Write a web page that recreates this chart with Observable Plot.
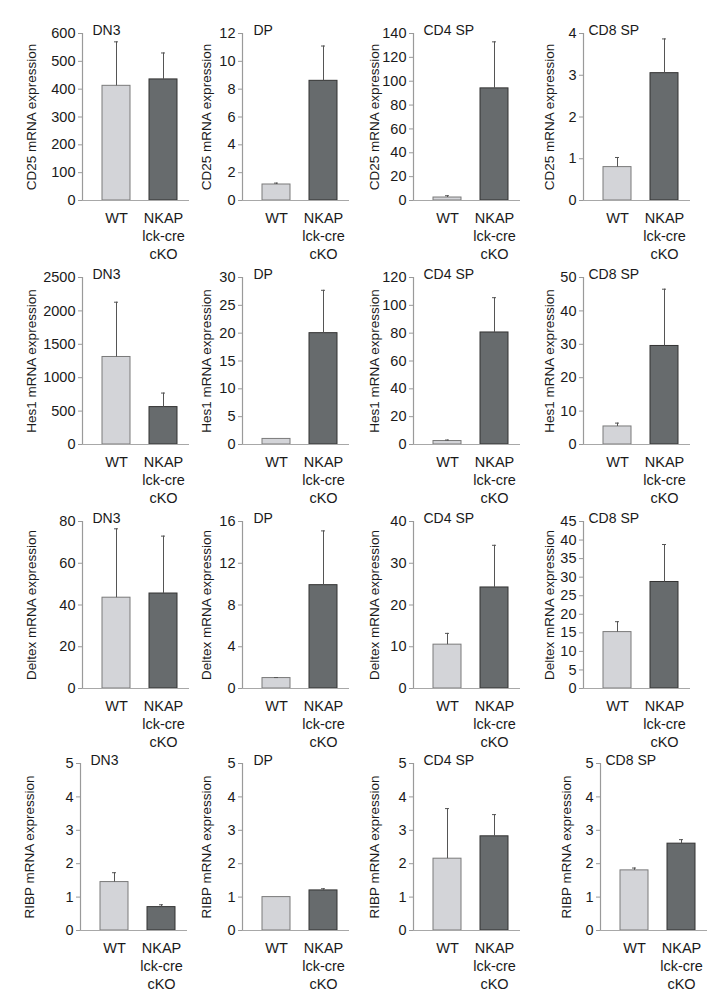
<!DOCTYPE html>
<html><head><meta charset="utf-8">
<script src="https://cdn.jsdelivr.net/npm/d3@7"></script>
<script src="https://cdn.jsdelivr.net/npm/@observablehq/plot@0.6"></script>
<style>
body{margin:0;background:#fff;font-family:"Liberation Sans",Arial,sans-serif;}
#fig{position:relative;width:719px;height:1002px;overflow:hidden;background:#fff}
.panel{position:absolute}
</style></head><body><div id="fig"></div>
<script>
// ---- data ----
const populations = ["DN3", "DP", "CD4 SP", "CD8 SP"];
const groups = ["WT", "NKAP lck-cre cKO"];
const genes = ["CD25", "Hes1", "Deltex", "RIBP"];

// means per population (DN3, DP, CD4 SP, CD8 SP)
const cd25WT   = [412, 1.15, 2.5, 0.8];
const cd25KO   = [435, 8.6, 94, 3.05];
const cd25WTErr = [158, 0.1, 1.5, 0.23];
const cd25KOErr = [95, 2.5, 39, 0.82];

const hes1WT   = [1310, 1.0, 2.5, 5.4];
const hes1KO   = [560, 20, 80.5, 29.5];
const hes1WTErr = [820, 0, 0.7, 1.0];
const hes1KOErr = [210, 7.7, 25, 17];

const deltexWT   = [43.5, 1.0, 10.5, 15.2];
const deltexKO   = [45.5, 9.9, 24.2, 28.7];
const deltexWTErr = [33, 0.05, 2.7, 2.8];
const deltexKOErr = [27.5, 5.2, 10.1, 10.1];

const ribpWT   = [1.45, 1.0, 2.15, 1.8];
const ribpKO   = [0.7, 1.2, 2.82, 2.6];
const ribpWTErr = [0.28, 0, 1.5, 0.07];
const ribpKOErr = [0.07, 0.05, 0.65, 0.12];

// y-axis maxima and tick steps
const cd25Max = [600, 12, 140, 4],   cd25Step = [100, 2, 20, 1];
const hes1Max = [2500, 30, 120, 50], hes1Step = [500, 5, 20, 10];
const deltexMax = [80, 16, 40, 45],  deltexStep = [20, 4, 10, 5];
const ribpMax = [5, 5, 5, 5],        ribpStep = [1, 1, 1, 1];

const wtMeans = [cd25WT, hes1WT, deltexWT, ribpWT];
const koMeans = [cd25KO, hes1KO, deltexKO, ribpKO];
const wtErrs = [cd25WTErr, hes1WTErr, deltexWTErr, ribpWTErr];
const koErrs = [cd25KOErr, hes1KOErr, deltexKOErr, ribpKOErr];
const yMaxes = [cd25Max, hes1Max, deltexMax, ribpMax];
const ySteps = [cd25Step, hes1Step, deltexStep, ribpStep];

// ---- layout ----
const colAxisX = [82, 242, 413, 583];
const rowTop = [33, 277, 521, 763];
const frameW = 107, frameH = 167;
const mL = 70, mT = 30, mR = 10, mB = 75;
const labelOffset = [51, 36, 39, 34];
const titleDx = [10, 11, 10, 5];
const wtFill = "#d3d4d8", wtStroke = "#7a7a7a";
const koFill = "#676b6d", koStroke = "#333";
const errColor = "#555";
const FONT = '"Liberation Sans", Arial, sans-serif';

function yAxisLine(index, scales, values, dims) {
  const l = document.createElementNS("http://www.w3.org/2000/svg", "line");
  l.setAttribute("x1", dims.marginLeft + 0.5);
  l.setAttribute("x2", dims.marginLeft + 0.5);
  l.setAttribute("y1", dims.marginTop);
  l.setAttribute("y2", dims.height - dims.marginBottom);
  l.setAttribute("stroke", "#9a9a9a");
  l.setAttribute("stroke-width", 1.2);
  return l;
}

const fig = document.getElementById("fig");
genes.forEach((gene, r) => {
  populations.forEach((pop, c) => {
    const data = [
      {group: groups[0], value: wtMeans[r][c], err: wtErrs[r][c]},
      {group: groups[1], value: koMeans[r][c], err: koErrs[r][c]}
    ];
    const ymax = yMaxes[r][c], step = ySteps[r][c];
    const ticks = d3.range(0, ymax + step / 2, step);
    let ax = colAxisX[c];
    if (r === 3 && c === 3) ax = 600;
    if (r === 3 && c === 0) ax = 80;
    const plot = Plot.plot({
      width: mL + frameW + mR,
      height: mT + frameH + mB,
      marginLeft: mL, marginTop: mT, marginRight: mR, marginBottom: mB,
      style: {background: "transparent", overflow: "visible", fontFamily: FONT},
      x: {domain: groups, paddingInner: 0.404, paddingOuter: 0.34, align: 0.625, label: null},
      y: {domain: [0, ymax], label: null},
      marks: [
        Plot.barY(data.filter(d => d.group === groups[0]), {x: "group", y: "value", fill: wtFill, stroke: wtStroke, strokeWidth: 1}),
        Plot.barY(data.filter(d => d.group === groups[1]), {x: "group", y: "value", fill: koFill, stroke: koStroke, strokeWidth: 1}),
        Plot.ruleX(data.filter(d => d.err > 0), {x: "group", y1: "value", y2: d => d.value + d.err, stroke: errColor, strokeWidth: 1}),
        Plot.tickY(data.filter(d => d.err > 0), {x: "group", y: d => d.value + d.err, stroke: errColor, strokeWidth: 1, insetLeft: 12, insetRight: 12}),
        Plot.ruleY([0], {stroke: "#a8a8a8", strokeWidth: 1.2}),
        yAxisLine,
        Plot.axisY({ticks, tickSize: 4, tickPadding: 3, fontSize: 14.5, stroke: "#999", fill: "#1a1a1a", label: null, tickFormat: d3.format("d")}),
        Plot.axisX({tickSize: 0, tickPadding: 9, fontSize: 14.5, lineHeight: 1.27, fill: "#1a1a1a", label: null,
          tickFormat: d => d === groups[0] ? "WT" : "NKAP\nlck-cre\ncKO"}),
        Plot.text([`${gene} mRNA expression`], {frameAnchor: "left", textAnchor: "middle", lineAnchor: "middle", rotate: -90, dx: -labelOffset[c], fontSize: 13.5, fill: "#1a1a1a"}),
        Plot.text([pop], {frameAnchor: "top-left", textAnchor: "start", lineAnchor: "bottom", dx: titleDx[c], dy: 1, fontSize: 14, fill: "#1a1a1a"})
      ]
    });
    const div = document.createElement("div");
    div.className = "panel";
    div.style.left = (ax - mL) + "px";
    div.style.top = (rowTop[r] - mT) + "px";
    div.appendChild(plot);
    fig.appendChild(div);
  });
});
</script>
</body></html>
